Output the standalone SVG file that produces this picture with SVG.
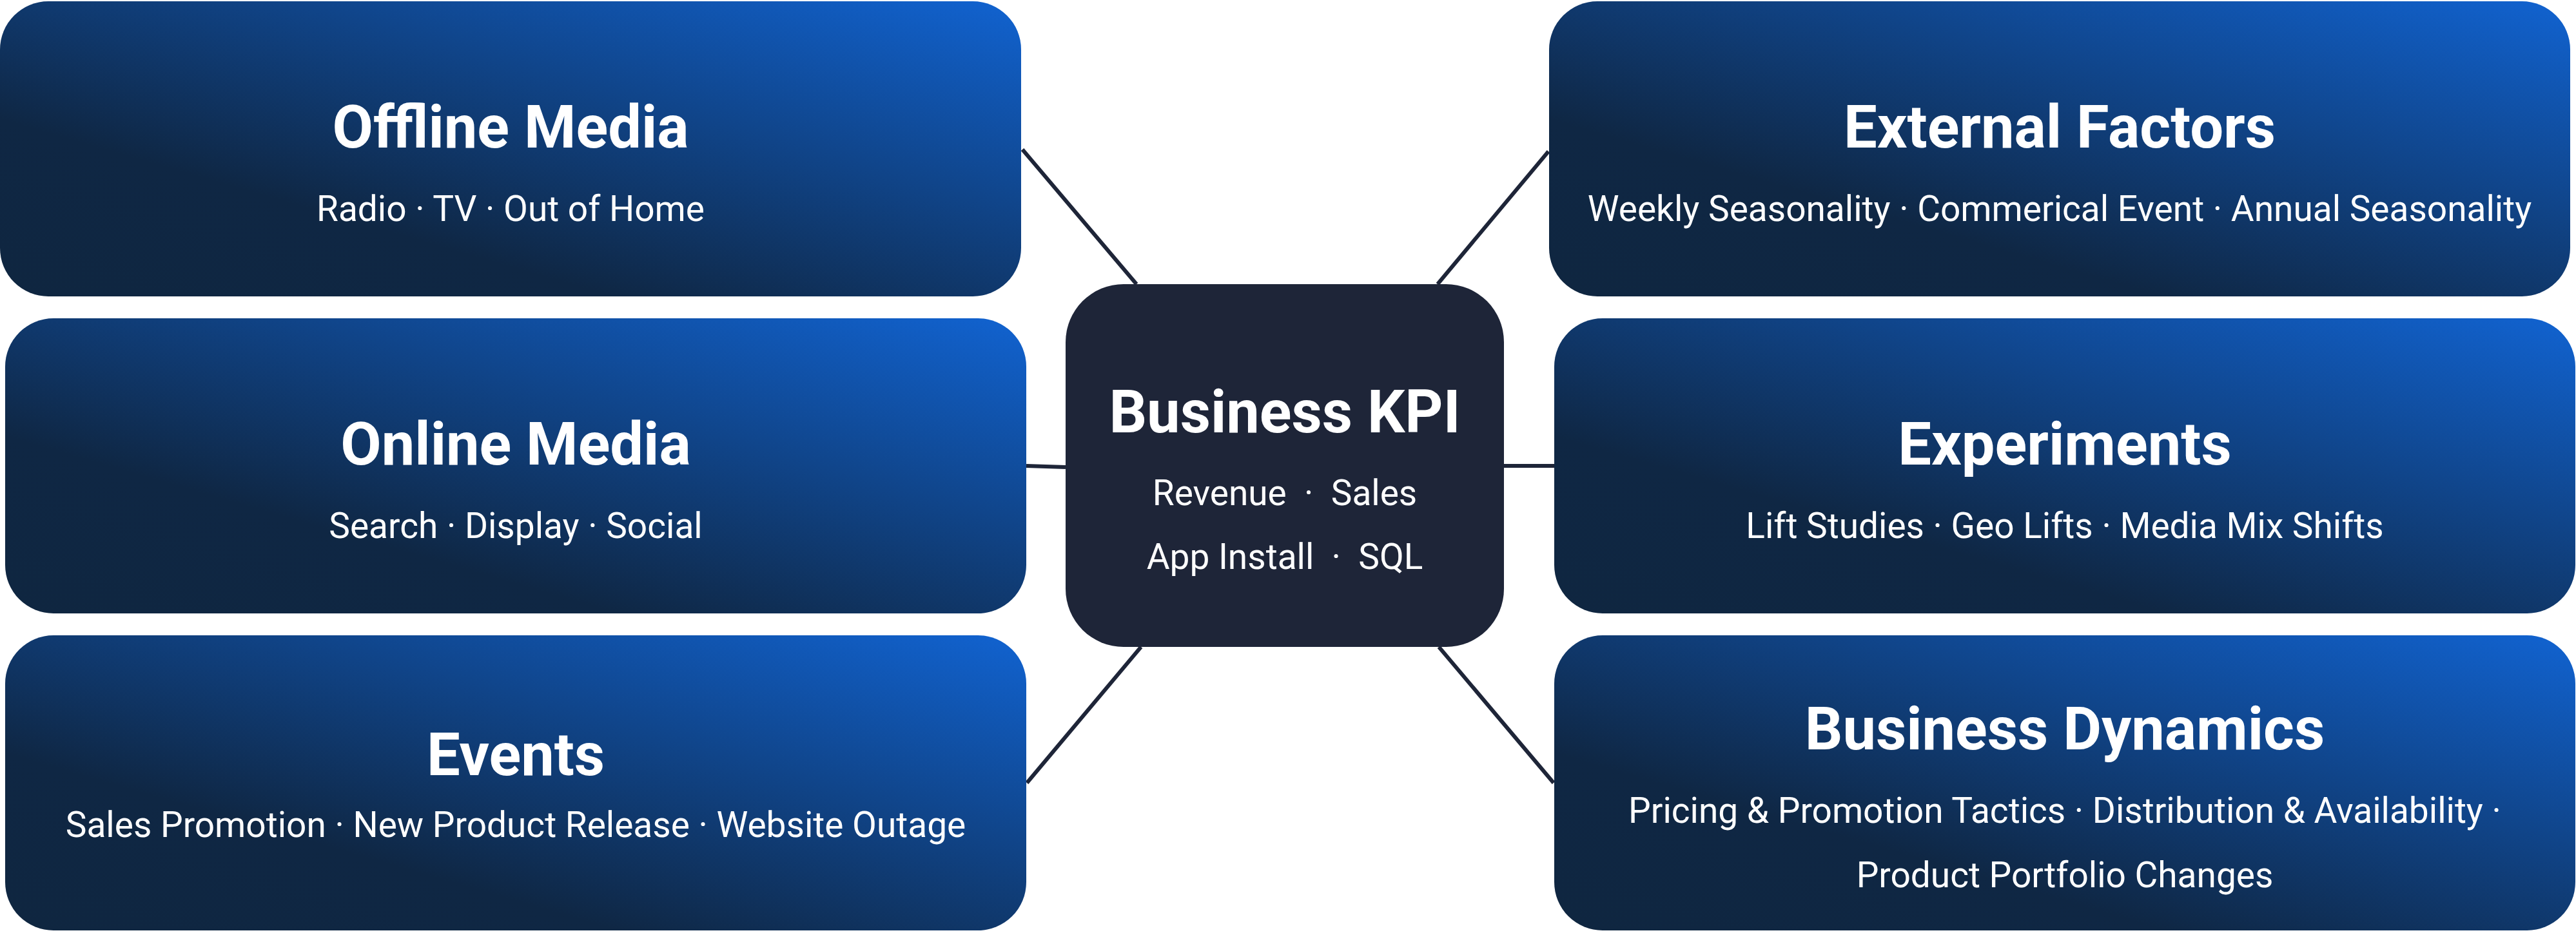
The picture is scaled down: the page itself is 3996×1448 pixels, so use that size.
<svg xmlns="http://www.w3.org/2000/svg" width="3996" height="1448" viewBox="0 0 3996 1448">
<style>
.box{fill:url(#g)}
.kpi{fill:#1e2538}
.t{font-family:Roboto,"Liberation Sans",sans-serif;font-weight:700;font-size:92px;fill:#fff;text-anchor:middle}
.s{font-family:Roboto,"Liberation Sans",sans-serif;font-weight:400;font-size:55px;fill:#fff;text-anchor:middle}
.cs{font-family:Roboto,"Liberation Sans",sans-serif;font-weight:400;font-size:55px;fill:#fff;text-anchor:middle}
.c{stroke:#1e2538;stroke-width:6;fill:none}
</style>
<defs>
<linearGradient id="g" x1="0" y1="1" x2="1" y2="0">
<stop offset="0" stop-color="#0f2640"/>
<stop offset="0.3" stop-color="#0f2744"/>
<stop offset="1" stop-color="#1163d1"/>
</linearGradient>
</defs>
<rect width="3996" height="1448" fill="#fff"/>
<g id="connectors">
<line class="c" x1="1586" y1="232" x2="1763" y2="441"/>
<line class="c" x1="2402" y1="235" x2="2230" y2="441"/>
<line class="c" x1="1593" y1="1215" x2="1770" y2="1004"/>
<line class="c" x1="2410" y1="1215" x2="2232" y2="1004"/>
<line class="c" x1="1592" y1="723" x2="1653" y2="725"/>
<line class="c" x1="2333" y1="723" x2="2411" y2="723"/>
</g>
<g id="offline-media">
<rect class="box" x="0" y="2" width="1584" height="458" rx="75"/>
<text class="t" x="792" y="229">Offline Media</text>
<text class="s" x="792" y="343">Radio · TV · Out of Home</text>
</g>
<g id="online-media">
<rect class="box" x="8" y="494" width="1584" height="458" rx="75"/>
<text class="t" x="800" y="721">Online Media</text>
<text class="s" x="800" y="835">Search · Display · Social</text>
</g>
<g id="events">
<rect class="box" x="8" y="986" width="1584" height="458" rx="75"/>
<text class="t" x="800" y="1203">Events</text>
<text class="s" x="800" y="1299">Sales Promotion · New Product Release · Website Outage</text>
</g>
<g id="external-factors">
<rect class="box" x="2403" y="2" width="1584" height="458" rx="75"/>
<text class="t" x="3195" y="229">External Factors</text>
<text class="s" x="3195" y="343">Weekly Seasonality · Commerical Event · Annual Seasonality</text>
</g>
<g id="experiments">
<rect class="box" x="2411" y="494" width="1584" height="458" rx="75"/>
<text class="t" x="3203" y="721">Experiments</text>
<text class="s" x="3203" y="835">Lift Studies · Geo Lifts · Media Mix Shifts</text>
</g>
<g id="business-dynamics">
<rect class="box" x="2411" y="986" width="1584" height="458" rx="75"/>
<text class="t" x="3203" y="1163">Business Dynamics</text>
<text class="s" x="3203" y="1277">Pricing &amp; Promotion Tactics · Distribution &amp; Availability ·</text>
<text class="s" x="3203" y="1377">Product Portfolio Changes</text>
</g>
<g id="business-kpi">
<rect class="kpi" x="1653" y="441" width="680" height="563" rx="90"/>
<text class="t" x="1993" y="671">Business KPI</text>
<text class="cs" x="1993" y="784">Revenue &#160;·&#160; Sales</text>
<text class="cs" x="1993" y="883">App Install &#160;·&#160; SQL</text>
</g>
</svg>
